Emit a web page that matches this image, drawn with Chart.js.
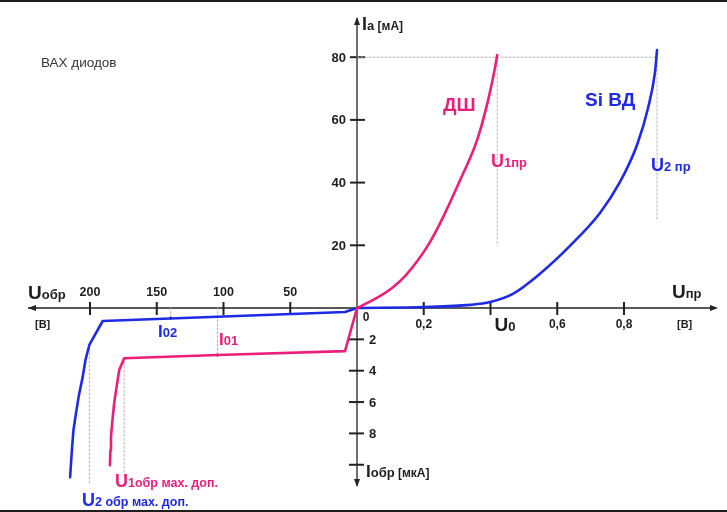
<!DOCTYPE html>
<html>
<head>
<meta charset="utf-8">
<style>
html, body { margin: 0; padding: 0; background: #fff; }
canvas { display: block; }
</style>
<script src="https://cdn.jsdelivr.net/npm/chart.js@4.4.1/dist/chart.umd.min.js"></script>
</head>
<body>
<canvas id="vax" width="727" height="512"></canvas>
<script>
// прямая ветвь: U [В], I [мА]
const dshFwdU = [0, 0.054, 0.105, 0.144, 0.183, 0.219, 0.258, 0.309, 0.360, 0.393, 0.414, 0.420];
const dshFwdI = [0, 2.9, 6.4, 10.2, 15.3, 21.1, 29.0, 40.8, 53.6, 66.4, 76.9, 80.7];
const siFwdU = [0, 0.204, 0.339, 0.399, 0.467, 0.548, 0.638, 0.728, 0.788, 0.839, 0.872, 0.893, 0.899];
const siFwdI = [0, 0.3, 1.0, 1.9, 4.5, 10.9, 19.8, 30.3, 40.2, 52.0, 63.8, 75.3, 82.3];

// обратная ветвь: U [В], I [мкА]
const dshRevU = [0, 9, 104.5, 174.4, 178.1, 179.9, 181.9, 183.2, 184.3, 184.7, 185.1];
const dshRevI = [0, 2.75, 3.0, 3.21, 3.96, 4.92, 6.07, 7.16, 8.22, 9.07, 10.03];
const siRevU = [0, 9, 190.5, 200.5, 203.4, 205.5, 208.3, 210.5, 212.4, 213.4, 214.2, 214.9];
const siRevI = [0, 0.26, 0.83, 2.36, 3.32, 4.41, 5.56, 6.71, 7.80, 8.88, 9.84, 10.8];

// деления осей
const fwdTicksU = [0.2, 0.4, 0.6, 0.8];
const fwdTickLabels = ['0,2', 'U0', '0,6', '0,8'];
const revTicksU = [50, 100, 150, 200];
const fwdTicksI = [20, 40, 60, 80];
const revTicksI = [2, 4, 6, 8, 10];
const revTickLabels = ['2', '4', '6', '8', ''];

// отметки I01, I02 (В, мкА) и нижние концы пунктиров
const i01 = [104.5, 3.0];
const i02 = [139.5, 0.65];
const u1prLow = 20, u2prLow = 28;       // мА
const u1obrLow = 10.7, u2obrLow = 11.2; // мкА

const pink = '#ec1e79';
const blue = '#1e2ae6';

// обратная ветвь в своём масштабе: 50 В = 0,2 В, 1 мкА = 5 мА
const revU = 0.2 / 50;
const revI = 5;
const pt = (u, i, rev) => rev ? { x: -u * revU, y: -i * revI } : { x: u, y: i };

const fwd = (us, is) => us.map((u, k) => pt(u, is[k], false));
const rev = (us, is) => us.map((u, k) => pt(u, is[k], true)).reverse();

function curve(data, color, smooth) {
    return {
        data: data,
        borderColor: color,
        borderWidth: 2.6,
        pointRadius: 0,
        cubicInterpolationMode: smooth ? 'monotone' : 'default',
        tension: 0
    };
}

function guide(a, b, dot) {
    return {
        data: [a, b],
        borderColor: '#b4b4b4',
        borderWidth: 1,
        borderDash: [2, 2],
        pointRadius: dot ? [0, 1.6] : 0,
        pointBackgroundColor: '#333',
        pointBorderWidth: 0
    };
}

const dshLast = dshFwdU.length - 1, siLast = siFwdU.length - 1;

const datasets = [
    curve(fwd(dshFwdU, dshFwdI), pink, true),
    curve(rev(dshRevU, dshRevI), pink, false),
    curve(fwd(siFwdU, siFwdI), blue, true),
    curve(rev(siRevU, siRevI), blue, false),
    guide(pt(0, 80), pt(siFwdU[siLast], 80)),
    guide(pt(dshFwdU[dshLast], 80), pt(dshFwdU[dshLast], u1prLow)),
    guide(pt(siFwdU[siLast], 80), pt(siFwdU[siLast], u2prLow)),
    guide(pt(dshRevU[3], dshRevI[3], true), pt(dshRevU[3], u1obrLow, true)),
    guide(pt(siRevU[3], siRevI[3], true), pt(siRevU[3], u2obrLow, true)),
    guide(pt(i01[0], 0, true), pt(i01[0], i01[1], true), true),
    guide(pt(i02[0], 0, true), pt(i02[0], i02[1], true), true)
];

const F = (size, weight) => `${weight || 'bold'} ${size}px "Liberation Sans", Arial, sans-serif`;

function parts(ctx, x, y, list, color) {
    ctx.fillStyle = color;
    ctx.textAlign = 'left';
    ctx.textBaseline = 'alphabetic';
    for (const [t, s] of list) {
        ctx.font = F(s);
        ctx.fillText(t, x, y);
        x += ctx.measureText(t).width;
    }
}

function line(ctx, x1, y1, x2, y2) {
    ctx.beginPath();
    ctx.moveTo(x1, y1);
    ctx.lineTo(x2, y2);
    ctx.stroke();
}

function arrow(ctx, x, y, dx, dy) {
    // остриё в (x, y), направление (dx, dy)
    const l = 8, w = 3;
    ctx.beginPath();
    ctx.moveTo(x, y);
    ctx.lineTo(x - dx * l - dy * w, y - dy * l - dx * w);
    ctx.lineTo(x - dx * l + dy * w, y - dy * l + dx * w);
    ctx.closePath();
    ctx.fill();
}

const axesPlugin = {
    id: 'vaxAxes',
    beforeDatasetsDraw(chart) {
        const { ctx, scales: { x, y } } = chart;
        const x0 = x.getPixelForValue(0), y0 = y.getPixelForValue(0);
        ctx.save();
        // рамка сверху и снизу
        ctx.fillStyle = '#1e1e1e';
        ctx.fillRect(0, 0, chart.width, 2);
        ctx.fillRect(0, chart.height - 2, chart.width, 2);

        ctx.strokeStyle = '#222';
        ctx.fillStyle = '#222';
        ctx.lineWidth = 1.3;
        line(ctx, 28, y0, 716, y0);
        line(ctx, x0, 18, x0, 486);
        arrow(ctx, 28, y0, -1, 0);
        arrow(ctx, 718, y0, 1, 0);
        arrow(ctx, x0, 17, 0, -1);
        arrow(ctx, x0, 487, 0, 1);

        ctx.lineWidth = 2;
        fwdTicksU.forEach(u => { const px = x.getPixelForValue(u); line(ctx, px, y0 - 6, px, y0 + 7); });
        revTicksU.forEach(u => { const px = x.getPixelForValue(pt(u, 0, true).x); line(ctx, px, y0 - 6, px, y0 + 7); });
        fwdTicksI.forEach(i => { const py = y.getPixelForValue(i); line(ctx, x0 - 7, py, x0 + 8, py); });
        revTicksI.forEach(i => { const py = y.getPixelForValue(pt(0, i, true).y); line(ctx, x0 - 8, py, x0 + 7, py); });
        ctx.restore();
    },
    afterDatasetsDraw(chart) {
        const { ctx, scales: { x, y } } = chart;
        const x0 = x.getPixelForValue(0), y0 = y.getPixelForValue(0);
        const ink = '#1e1e1e';
        ctx.save();
        ctx.fillStyle = ink;

        // подписи делений
        ctx.font = F(12.5);
        ctx.textAlign = 'center';
        ctx.textBaseline = 'alphabetic';
        revTicksU.forEach(u => ctx.fillText(String(u), x.getPixelForValue(pt(u, 0, true).x), y0 - 12));
        fwdTicksU.forEach((u, k) => {
            const px = x.getPixelForValue(u);
            if (fwdTickLabels[k] === 'U0') parts(ctx, px + 4, y0 + 23, [['U', 19], ['0', 13]], ink);
            else { ctx.fillStyle = ink; ctx.font = F(12); ctx.textAlign = 'center'; ctx.fillText(fwdTickLabels[k], px, y0 + 20); }
        });
        ctx.textAlign = 'center';
        ctx.font = F(12);
        ctx.fillText('0', x0 + 9, y0 + 13);

        ctx.font = F(13);
        ctx.textAlign = 'right';
        ctx.textBaseline = 'middle';
        fwdTicksI.forEach(i => ctx.fillText(String(i), x0 - 11, y.getPixelForValue(i) + 1));
        ctx.textAlign = 'left';
        revTicksI.forEach((i, k) => ctx.fillText(revTickLabels[k], x0 + 12, y.getPixelForValue(pt(0, i, true).y) + 1));

        // названия осей
        parts(ctx, 28, y0 - 9, [['U', 19], ['обр', 13]], ink);
        parts(ctx, 35, y0 + 20, [['[В]', 11]], ink);
        parts(ctx, 672, y0 - 10, [['U', 19], ['пр', 13]], ink);
        parts(ctx, 677, y0 + 20, [['[В]', 11]], ink);
        parts(ctx, 362, 30, [['I', 18], ['a', 13], [' [мА]', 12]], ink);
        parts(ctx, 366, 477, [['I', 17], ['обр', 13], [' [мкА]', 12]], ink);

        ctx.fillStyle = '#333';
        ctx.font = F(13.5, 'normal');
        ctx.textAlign = 'left';
        ctx.textBaseline = 'alphabetic';
        ctx.fillText('ВАХ диодов', 41, 67);

        // подписи кривых
        parts(ctx, 443, 111, [['ДШ', 19]], pink);
        parts(ctx, 585, 106, [['Si ВД', 19]], blue);
        parts(ctx, 491, 167, [['U', 18], ['1пр', 13]], pink);
        parts(ctx, 651, 171, [['U', 18], ['2 пр', 13]], blue);
        parts(ctx, 115, 487, [['U', 18], ['1обр мах. доп.', 12.5]], pink);
        parts(ctx, 82, 506, [['U', 18], ['2 обр мах. доп.', 12.5]], blue);
        parts(ctx, 158, 337, [['I', 17], ['02', 13]], blue);
        parts(ctx, 219, 345, [['I', 17], ['01', 13]], pink);
        ctx.restore();
    }
};

new Chart(document.getElementById('vax').getContext('2d'), {
    type: 'line',
    data: { datasets: datasets },
    options: {
        responsive: false,
        animation: false,
        layout: { padding: 0, autoPadding: false },
        plugins: { legend: { display: false }, tooltip: { enabled: false } },
        elements: {
            line: { borderCapStyle: 'round', borderJoinStyle: 'round' },
            point: { hoverRadius: 0 }
        },
        scales: {
            x: { type: 'linear', display: false, bounds: 'data', min: -1.0697, max: 1.1086 },
            y: { type: 'linear', display: false, bounds: 'data', min: -65.07, max: 98.24 }
        }
    },
    plugins: [axesPlugin]
});
</script>
</body>
</html>
